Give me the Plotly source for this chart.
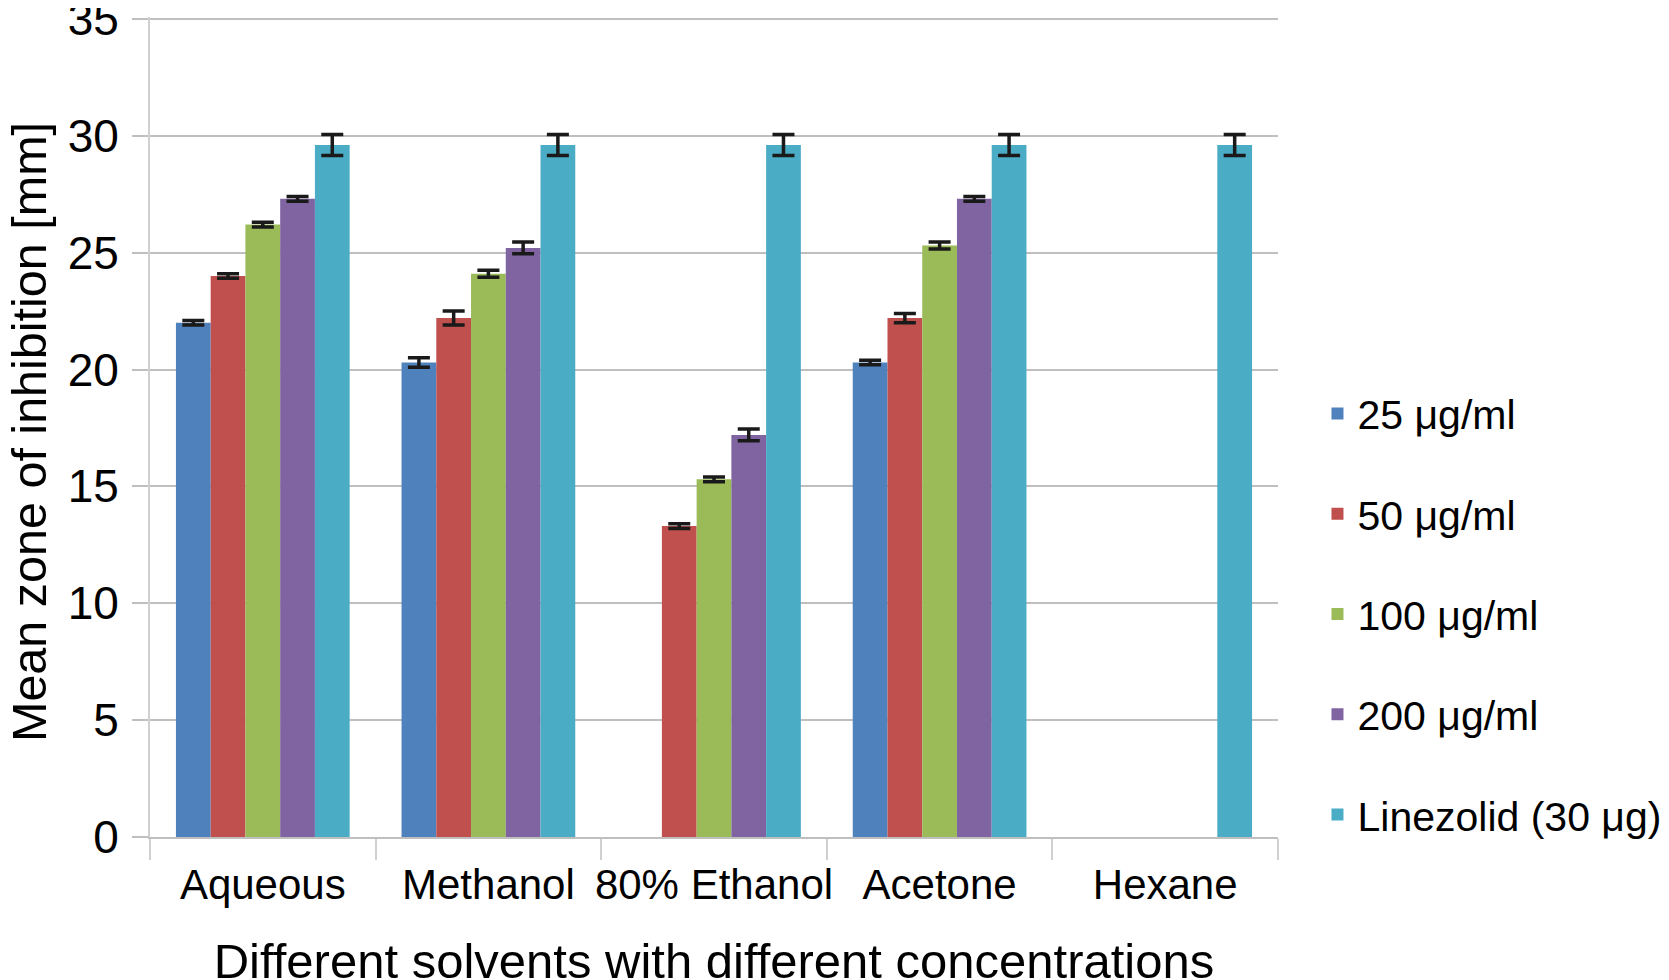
import plotly.graph_objects as go

categories = ["Aqueous", "Methanol", "80% Ethanol", "Acetone", "Hexane"]
series_names = ["25 μg/ml", "50 μg/ml", "100 μg/ml", "200 μg/ml", "Linezolid (30 μg)"]

v25 = [22.0, 20.3, 0, 20.3, 0]
v50 = [24.0, 22.2, 13.3, 22.2, 0]
v100 = [26.2, 24.1, 15.3, 25.3, 0]
v200 = [27.3, 25.2, 17.2, 27.3, 0]
vlin = [29.6, 29.6, 29.6, 29.6, 29.6]

e25 = [0.1, 0.2, 0, 0.1, 0]
e50 = [0.1, 0.3, 0.1, 0.2, 0]
e100 = [0.1, 0.15, 0.1, 0.15, 0]
e200 = [0.1, 0.25, 0.25, 0.1, 0]
elin = [0.45, 0.45, 0.45, 0.45, 0.45]

values = [v25, v50, v100, v200, vlin]
errors = [e25, e50, e100, e200, elin]
colors = ["#4F81BD", "#C0504D", "#9BBB59", "#8064A2", "#4BACC6"]

FONT = "Liberation Sans, Arial, sans-serif"

fig = go.Figure()
for i, (name, vals, errs, col) in enumerate(zip(series_names, values, errors, colors)):
    show_err = [e if v > 0 else None for v, e in zip(vals, errs)]
    fig.add_trace(go.Bar(
        x=categories, y=[v if v > 0 else None for v in vals], name=name,
        marker=dict(color=col, line=dict(width=0)),
        legendgroup=f"g{i}",
        error_y=dict(type="data", array=show_err, visible=True,
                     color="#1a1a1a", thickness=3.5, width=11),
    ))

fig.update_layout(
    width=1669, height=980,
    paper_bgcolor="white", plot_bgcolor="white",
    margin=dict(l=142, r=399, t=9, b=151, autoexpand=False),
    barmode="group", bargap=0.23, bargroupgap=0,
    font=dict(family=FONT, color="black"),
    legend=dict(x=1.035, y=0.557, xanchor="left", yanchor="top",
                font=dict(size=41, family=FONT), traceorder="grouped",
                tracegroupgap=44, itemwidth=30, bgcolor="rgba(0,0,0,0)"),
    showlegend=True,
    annotations=[dict(
        text="Mean zone of inhibition [mm]", textangle=-90,
        xref="paper", yref="paper", x=0, y=0.5, xanchor="center", yanchor="middle",
        xshift=-121, yshift=-5, showarrow=False,
        font=dict(size=48.5, family=FONT, color="black"),
    )],
)

fig.update_yaxes(
    range=[0, 35.08], dtick=5, tick0=0,
    showgrid=True, gridcolor="#bfbfbf", gridwidth=2,
    showline=True, linecolor="#d0d0d0", linewidth=2,
    ticks="outside", ticklen=16, tickcolor="#bfbfbf", tickwidth=2,
    tickfont=dict(size=46, family=FONT), ticklabelstandoff=4,
    ticklabeloverflow="allow",
    zeroline=False,
    automargin=False,
)
fig.update_xaxes(
    showline=True, linecolor="#bfbfbf", linewidth=2,
    ticks="outside", tickson="boundaries", ticklen=21, tickcolor="#d0d0d0", tickwidth=2,
    tickfont=dict(size=42, family=FONT), tickangle=0, ticklabelstandoff=10,
    title=dict(text="Different solvents with different concentrations", font=dict(size=49, family=FONT), standoff=39),
    automargin=False,
)

fig.write_html("out.html")
